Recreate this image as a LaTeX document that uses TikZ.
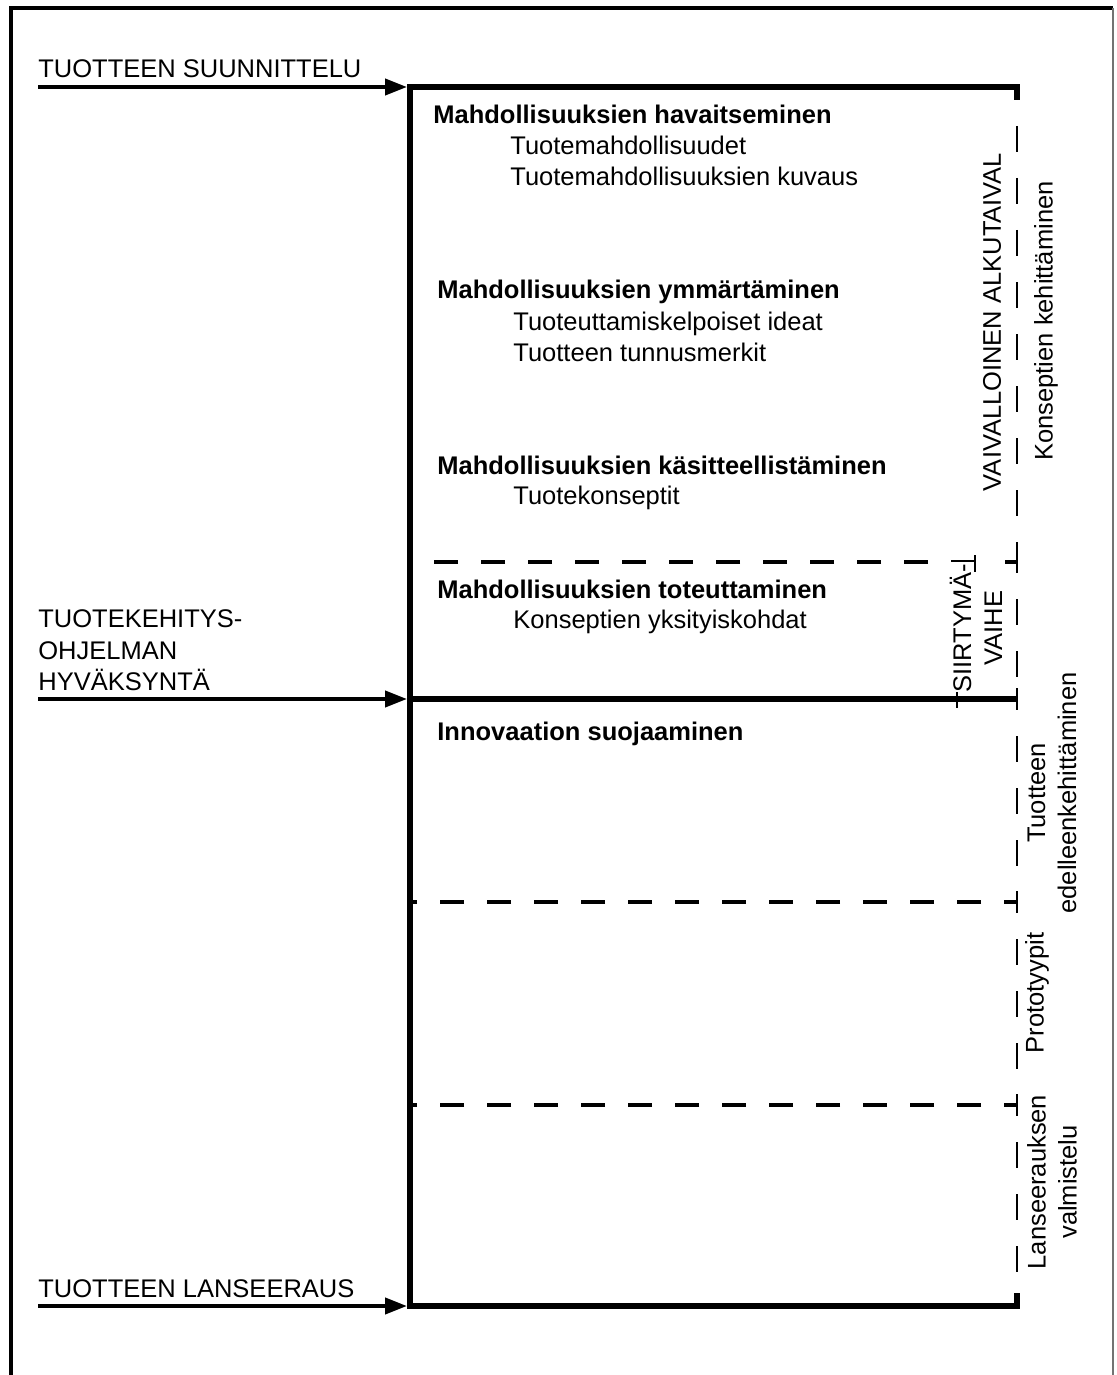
\documentclass[tikz,border=0pt]{standalone}
\usepackage{fontspec}
\setmainfont{Liberation Sans}
\usetikzlibrary{arrows.meta,calc}
\begin{document}
\begin{tikzpicture}[x=0.5pt,y=-0.5pt,
  lbl/.style={anchor=base west, inner sep=0pt, font=\fontsize{12.75pt}{15.5pt}\selectfont},
  head/.style={anchor=base west, inner sep=0pt, font=\bfseries\fontsize{12.75pt}{15.5pt}\selectfont},
  rot/.style={rotate=90, align=center, inner sep=0pt, font=\fontsize{12.75pt}{15.5pt}\selectfont},
  boxline/.style={line width=3pt, line join=miter},
  arr/.style={line width=2pt, -{Triangle[length=11pt,width=8pt]}, shorten >=1.5pt},
  dsh/.style={line width=1.8pt, dash pattern=on 12pt off 11.5pt},
  vdsh/.style={line width=1.4pt, dash pattern=on 13pt off 13pt},
  tick/.style={line width=1.4pt},
]
\useasboundingbox (0,0) rectangle (1117,1375);
\clip (0,0) rectangle (1117,1375);
% outer frame
\draw[line width=1.8pt] (11,1385) -- (11,8) -- (1113,8);
\draw[line width=1pt, black!55] (1113,8) -- (1113,1385);

% key coordinates
\coordinate (TL) at (410,87);
\coordinate (TR) at (1017,87);
\coordinate (ML) at (410,699);
\coordinate (MR) at (1017,699);
\coordinate (BL) at (410,1306);
\coordinate (BR) at (1017,1306);
\coordinate (D1L) at (410,562);
\coordinate (D1E) at (975,562);
\coordinate (D1R) at (1017,562);
\coordinate (D2L) at (410,902);
\coordinate (D2R) at (1017,902);
\coordinate (D3L) at (410,1105);
\coordinate (D3R) at (1017,1105);
\coordinate (A1) at (38,87);
\coordinate (A2) at (38,699);
\coordinate (A3) at (38,1306);

% main thick frame
\draw[boxline] ($(TR)+(0,13)$) -- (TR) -- (TL) -- (BL) -- (BR) -- ($(BR)+(0,-13)$);
\draw[boxline] (ML) -- (MR);

% dashed horizontal separators
\draw[dsh] (D1E) -- (D1L);
\draw[line width=1.8pt] ($(D1R)+(-12,0)$) -- (D1R);
\draw[dsh, dash phase=5.5pt] (D2R) -- (D2L);
\draw[dsh, dash phase=5.5pt] (D3R) -- (D3L);

% right dashed vertical line with ticks at the junctions
\foreach \p in {D1R,MR,D2R,D3R}{
  \draw[tick] ($(\p)+(0,-11)$) -- ($(\p)+(0,11)$);
}
\draw[vdsh, dash phase=13pt] ($(TR)+(0,13)$) -- ($(D1R)+(0,-11)$);
\draw[vdsh, dash phase=13pt] ($(D1R)+(0,11)$) -- ($(MR)+(0,-11)$);
\draw[vdsh, dash phase=13pt] ($(MR)+(0,11)$) -- ($(D2R)+(0,-11)$);
\draw[vdsh, dash phase=13pt] ($(D2R)+(0,11)$) -- ($(D3R)+(0,-11)$);
\draw[vdsh, dash phase=13pt] ($(D3R)+(0,11)$) -- ($(BR)+(0,-13)$);

% milestone arrows
\draw[arr] (A1) -- (TL);
\draw[arr] (A2) -- (ML);
\draw[arr] (A3) -- (BL);

% left labels
\node[lbl] (ts) at (38,78) {TUOTTEEN SUUNNITTELU};
\node[lbl] (tk1) at (38,627) {TUOTEKEHITYS-};
\node[lbl] (tk2) at (38,659) {OHJELMAN};
\node[lbl] (tk3) at (38,690) {HYVÄKSYNTÄ};
\node[lbl] (tl) at (38,1297) {TUOTTEEN LANSEERAUS};

% inner texts
\node[head] (h1) at (433,124) {Mahdollisuuksien havaitseminen};
\node[lbl] (h1a) at (510,155) {Tuotemahdollisuudet};
\node[lbl] (h1b) at (510,186) {Tuotemahdollisuuksien kuvaus};
\node[head] (h2) at (437,299) {Mahdollisuuksien ymmärtäminen};
\node[lbl] (h2a) at (513,330) {Tuoteuttamiskelpoiset ideat};
\node[lbl] (h2b) at (513,361) {Tuotteen tunnusmerkit};
\node[head] (h3) at (437,474) {Mahdollisuuksien käsitteellistäminen};
\node[lbl] (h3a) at (513,504) {Tuotekonseptit};
\node[head] (h4) at (437,598) {Mahdollisuuksien toteuttaminen};
\node[lbl] (h4a) at (513,628) {Konseptien yksityiskohdat};
\node[head] (h5) at (437,740) {Innovaation suojaaminen};

% rotated phase labels
\node[rot] (va) at (992,322) {VAIVALLOINEN ALKUTAIVAL};
\node[rot] (kk) at (1046,321) {Konseptien kehittäminen};
\node[rot, fill=white, inner sep=1pt] (sv) at (976,628) {SIIRTYMÄ-\\VAIHE};
\draw[tick] ($(D1E)+(0,-7)$) -- ($(D1E)+(0,10)$);
\draw[tick] (957,692) -- (957,708);
\node[rot] (te) at (1052,793) {Tuotteen\\edelleenkehittäminen};
\node[rot] (pr) at (1037,993) {Prototyypit};
\node[rot] (lv) at (1052,1182) {Lanseerauksen\\valmistelu};
\end{tikzpicture}
\end{document}
